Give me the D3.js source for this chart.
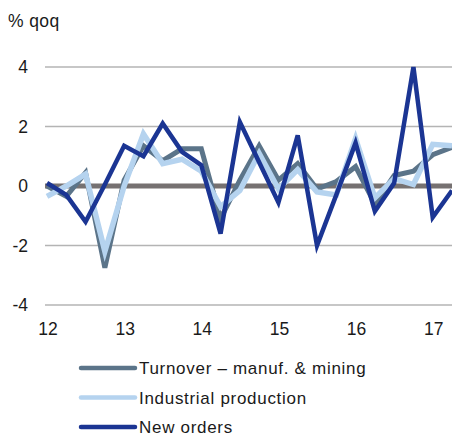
<!DOCTYPE html>
<html>
<head>
<meta charset="utf-8">
<style>
  body { margin: 0; background: #fff; }
  text { font-family: "Liberation Sans", Arial, sans-serif; fill: #1a1a1a; }
</style>
</head>
<body>
<svg width="452" height="436"></svg>
<script src="https://d3js.org/d3.v7.min.js"></script>
<script>
// quarters 2012 Q1 .. 2017 Q2
var quarters = ["12Q1","12Q2","12Q3","12Q4","13Q1","13Q2","13Q3","13Q4","14Q1","14Q2","14Q3","14Q4",
                "15Q1","15Q2","15Q3","15Q4","16Q1","16Q2","16Q3","16Q4","17Q1","17Q2"];
var yearLabels = ["12","13","14","15","16","17"];
var yTicks = [-4, -2, 0, 2, 4];

var turnover = [0.0,-0.35,0.45,-2.75,0.2,1.35,0.85,1.25,1.25,-1.1,0.2,1.35,
                0.2,0.75,-0.1,0.15,0.65,-0.6,0.35,0.5,1.05,1.3];
var production = [-0.35,0.0,0.4,-2.2,0.0,1.75,0.75,0.9,0.5,-0.7,-0.15,1.1,
                  -0.1,0.55,-0.2,-0.3,1.6,-0.4,0.25,0.05,1.4,1.35];
var orders = [0.1,-0.3,-1.2,0.05,1.35,1.0,2.1,1.15,0.7,-1.6,2.15,0.8,
              -0.55,1.7,-2.0,-0.3,1.45,-0.85,0.1,4.0,-1.05,-0.15];

var seriesNames = ["Turnover \u2013 manuf. & mining", "Industrial production", "New orders"];
var seriesColors = ["#5b7489", "#b5d3ef", "#1b3593"];

var svg = d3.select("svg");

var x = d3.scaleLinear().domain([0, quarters.length - 1]).range([47, 452]);
var y = d3.scaleLinear().domain([-4, 4]).range([305, 67]);

// gridlines
svg.append("g").selectAll("line")
  .data(yTicks.filter(function(d) { return d != 0; }))
  .enter().append("line")
    .attr("x1", 45).attr("x2", 452)
    .attr("y1", function(d) { return y(d); })
    .attr("y2", function(d) { return y(d); })
    .attr("stroke", "#b4b4b4")
    .attr("stroke-width", 1.5);

// y labels
svg.append("g").selectAll("text")
  .data(yTicks)
  .enter().append("text")
    .attr("x", 28)
    .attr("y", function(d) { return y(d) + 6; })
    .attr("text-anchor", "end")
    .attr("font-size", 17.5)
    .text(function(d) { return d; });

svg.append("text")
    .attr("x", 8).attr("y", 27)
    .attr("font-size", 17.5)
    .attr("letter-spacing", 0.4)
    .text("% qoq");

// zero line
svg.append("line")
    .attr("x1", 45).attr("x2", 452)
    .attr("y1", y(0)).attr("y2", y(0))
    .attr("stroke", "#767171")
    .attr("stroke-width", 5);

// x labels at Q1 of each year
svg.append("g").selectAll("text")
  .data(yearLabels)
  .enter().append("text")
    .attr("x", function(d, i) { return x(i * 4) + 1; })
    .attr("y", 335)
    .attr("text-anchor", "middle")
    .attr("font-size", 17.5)
    .text(function(d) { return d; });

var line = d3.line()
    .x(function(d, i) { return x(i); })
    .y(function(d) { return y(d); });

var allSeries = [turnover, production, orders];
var widths = [5, 5.5, 4.5];

svg.append("g").selectAll("path")
  .data(allSeries)
  .enter().append("path")
    .attr("d", line)
    .attr("fill", "none")
    .attr("stroke", function(d, i) { return seriesColors[i]; })
    .attr("stroke-width", function(d, i) { return widths[i]; })
    .attr("stroke-linejoin", "miter");

// legend
var leg = svg.append("g").selectAll("g")
  .data(seriesNames)
  .enter().append("g")
    .attr("transform", function(d, i) { return "translate(0," + (368 + i * 29.5) + ")"; });

leg.append("line")
    .attr("x1", 81).attr("x2", 135)
    .attr("stroke", function(d, i) { return seriesColors[i]; })
    .attr("stroke-width", 4.5)
    .attr("stroke-linecap", "round");

leg.append("text")
    .attr("x", 139).attr("y", 6)
    .attr("font-size", 17)
    .attr("letter-spacing", 0.7)
    .text(function(d) { return d; });
</script>
</body>
</html>
